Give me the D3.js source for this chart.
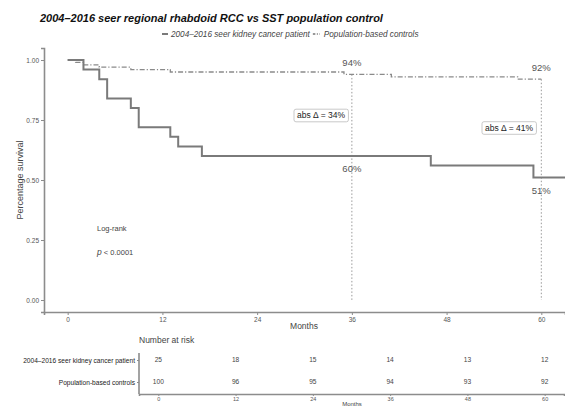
<!DOCTYPE html>
<html>
<head>
<meta charset="utf-8">
<script src="https://cdn.jsdelivr.net/npm/d3@7"></script>
<style>
  html, body { margin: 0; padding: 0; background: #fff; }
  svg { display: block; font-family: "Liberation Sans", Arial, Helvetica, sans-serif; }
</style>
</head>
<body>
<svg id="chart" width="565" height="407"></svg>
<script>
// Kaplan–Meier step data (months, survival proportion)
const patientTimes = [0, 2, 4, 5, 8, 9, 13, 14, 17, 46, 59];
const patientSurv  = [1.00, 0.96, 0.92, 0.84, 0.80, 0.72, 0.68, 0.64, 0.60, 0.56, 0.51];
const controlTimes = [0, 1, 2, 4, 8, 13, 35, 41, 57];
const controlSurv  = [1.00, 0.99, 0.98, 0.97, 0.96, 0.95, 0.94, 0.93, 0.92];

const seriesNames = ["2004\u20132016 seer kidney cancer patient", "Population-based controls"];
const xTicks = [0, 12, 24, 36, 48, 60];
const yTicks = [0, 0.25, 0.5, 0.75, 1];

// Reference points marked on the curves
const markMonths  = [36, 60];
const patientMark = [0.60, 0.51];
const controlMark = [0.94, 0.92];
const deltaLabels = ["abs \u0394 = 34%", "abs \u0394 = 41%"];

// Number-at-risk table
const riskPatient = [25, 18, 15, 14, 13, 12];
const riskControl = [100, 96, 95, 94, 93, 92];

const svg = d3.select("#chart");
const axisColor = "#8c8c8c";
const textColor = "#444";

// ---- main survival panel ----
const x = d3.scaleLinear().domain([-3, 63]).range([44, 565]);
const y = d3.scaleLinear().domain([-0.05, 1.05]).range([312, 48]);

svg.append("text")
  .attr("x", 40).attr("y", 22)
  .attr("font-size", 11).attr("font-weight", "bold").attr("font-style", "italic")
  .attr("fill", "#111")
  .text("2004\u20132016 seer regional rhabdoid RCC vs SST population control");

// legend: keys are placed after each measured label
const legend = svg.append("g").attr("font-size", 8.2).attr("font-style", "italic").attr("fill", textColor);
legend.append("line").attr("x1", 162).attr("x2", 168).attr("y1", 34).attr("y2", 34)
  .attr("stroke", "#7a7a7a").attr("stroke-width", 2);
const lt1 = legend.append("text").attr("x", 171).attr("y", 37).text(seriesNames[0]);
const end1 = 171 + lt1.node().getComputedTextLength();
legend.append("line").attr("x1", end1 + 3).attr("x2", end1 + 10).attr("y1", 34).attr("y2", 34)
  .attr("stroke", "#777").attr("stroke-width", 1.3).attr("stroke-dasharray", "2.5,1.5,1,1.5");
legend.append("text").attr("x", end1 + 14).attr("y", 37).text(seriesNames[1]);

// axes
const xAxis = d3.axisBottom(x).tickValues(xTicks).tickSize(3).tickPadding(2);
const yAxis = d3.axisLeft(y).tickValues(yTicks).tickSize(3).tickPadding(2).tickFormat(d3.format(".2f"));

const gx = svg.append("g").attr("transform", "translate(0,312)").call(xAxis);
const gy = svg.append("g").attr("transform", "translate(44,0)").call(yAxis);
[gx, gy].forEach(g => {
  g.select(".domain").attr("stroke", axisColor).attr("stroke-width", 1.6);
  g.selectAll(".tick line").attr("stroke", axisColor);
  g.selectAll(".tick text").attr("fill", "#555").attr("font-size", 6.5)
    .attr("font-family", "Liberation Sans, Arial, sans-serif");
});

svg.append("text").attr("x", 304).attr("y", 329).attr("text-anchor", "middle")
  .attr("font-size", 8.5).attr("fill", textColor).text("Months");
svg.append("text").attr("transform", "translate(23,180) rotate(-90)").attr("text-anchor", "middle")
  .attr("font-size", 9).attr("fill", textColor).text("Percentage survival");

// vertical dotted reference lines at the marked months
markMonths.forEach((m, i) => {
  svg.append("line")
    .attr("x1", x(m)).attr("x2", x(m))
    .attr("y1", y(controlMark[i])).attr("y2", y(0))
    .attr("stroke", "#9a9a9a").attr("stroke-width", 1).attr("stroke-dasharray", "1.5,2");
});

// survival curves
const stepLine = d3.line().curve(d3.curveStepAfter).x(d => x(d[0])).y(d => y(d[1]));
const patientPts = patientTimes.map((t, i) => [t, patientSurv[i]]).concat([[63, patientSurv[patientSurv.length - 1]]]);
const controlPts = controlTimes.map((t, i) => [t, controlSurv[i]]).concat([[60, controlSurv[controlSurv.length - 1]]]);

svg.append("path").datum(controlPts).attr("d", stepLine)
  .attr("fill", "none").attr("stroke", "#8a8a8a").attr("stroke-width", 1.3)
  .attr("stroke-dasharray", "5,2,1.2,2");
svg.append("path").datum(patientPts).attr("d", stepLine)
  .attr("fill", "none").attr("stroke", "#7a7a7a").attr("stroke-width", 2);

// percentage labels
const pctFmt = d3.format(".0%");
markMonths.forEach((m, i) => {
  svg.append("text").attr("x", x(m)).attr("y", y(controlMark[i]) - 8).attr("text-anchor", "middle")
    .attr("font-size", 9.5).attr("fill", "#555").text(pctFmt(controlMark[i]));
  svg.append("text").attr("x", x(m)).attr("y", y(patientMark[i]) + 16).attr("text-anchor", "middle")
    .attr("font-size", 9.5).attr("fill", "#555").text(pctFmt(patientMark[i]));
});

// boxed difference labels
const deltaPos = [[321, 115.5], [509, 128]];
deltaLabels.forEach((lab, i) => {
  const g = svg.append("g").attr("transform", `translate(${deltaPos[i][0]},${deltaPos[i][1]})`);
  const t = g.append("text").attr("text-anchor", "middle").attr("dy", "0.35em")
    .attr("font-size", 8.5).attr("fill", "#222").text(lab);
  const bb = t.node().getBBox();
  g.insert("rect", "text")
    .attr("x", bb.x - 3).attr("y", -6.3).attr("width", bb.width + 6).attr("height", 12.6)
    .attr("rx", 2).attr("fill", "#fff").attr("stroke", "#bbb").attr("stroke-width", 0.8);
});

// log-rank annotation
svg.append("text").attr("x", 97).attr("y", 231).attr("font-size", 7.5).attr("fill", textColor).text("Log-rank");
const pText = svg.append("text").attr("x", 97).attr("y", 255).attr("font-size", 7.5).attr("fill", textColor);
pText.append("tspan").attr("font-style", "italic").attr("font-size", 8.5).text("p");
pText.append("tspan").text(" < 0.0001");

// ---- number-at-risk table ----
const xr = d3.scaleLinear().domain([-3, 63]).range([139, 564]);
const rowY = [360, 382];

svg.append("text").attr("x", 139).attr("y", 343).attr("font-size", 8.5).attr("fill", textColor).text("Number at risk");

const ry = d3.scaleOrdinal().domain(seriesNames).range(rowY);
const gry = svg.append("g").attr("transform", "translate(139,0)")
  .call(d3.axisLeft(ry).tickSize(2).tickPadding(2));
gry.select(".domain").remove();
gry.append("line").attr("x1", 0).attr("x2", 0).attr("y1", 353).attr("y2", 394)
  .attr("stroke", axisColor).attr("stroke-width", 1.6);
gry.selectAll(".tick line").attr("stroke", axisColor);
gry.selectAll(".tick text").attr("fill", "#222").attr("font-size", 6.6)
  .attr("font-family", "Liberation Sans, Arial, sans-serif");

const grx = svg.append("g").attr("transform", "translate(0,394)")
  .call(d3.axisBottom(xr).tickValues(xTicks).tickSize(2).tickPadding(1.5));
grx.select(".domain").attr("stroke", axisColor).attr("stroke-width", 1.6);
grx.selectAll(".tick line").attr("stroke", axisColor);
grx.selectAll(".tick text").attr("fill", "#555").attr("font-size", 5.5)
  .attr("font-family", "Liberation Sans, Arial, sans-serif");

[riskPatient, riskControl].forEach((row, r) => {
  svg.append("g").selectAll("text").data(row).join("text")
    .attr("x", (d, i) => xr(xTicks[i])).attr("y", rowY[r]).attr("dy", "0.35em")
    .attr("text-anchor", "middle").attr("font-size", 6.6).attr("fill", "#444")
    .text(d => d);
});

svg.append("text").attr("x", 352).attr("y", 406).attr("text-anchor", "middle")
  .attr("font-size", 6).attr("fill", textColor).text("Months");
</script>
</body>
</html>
